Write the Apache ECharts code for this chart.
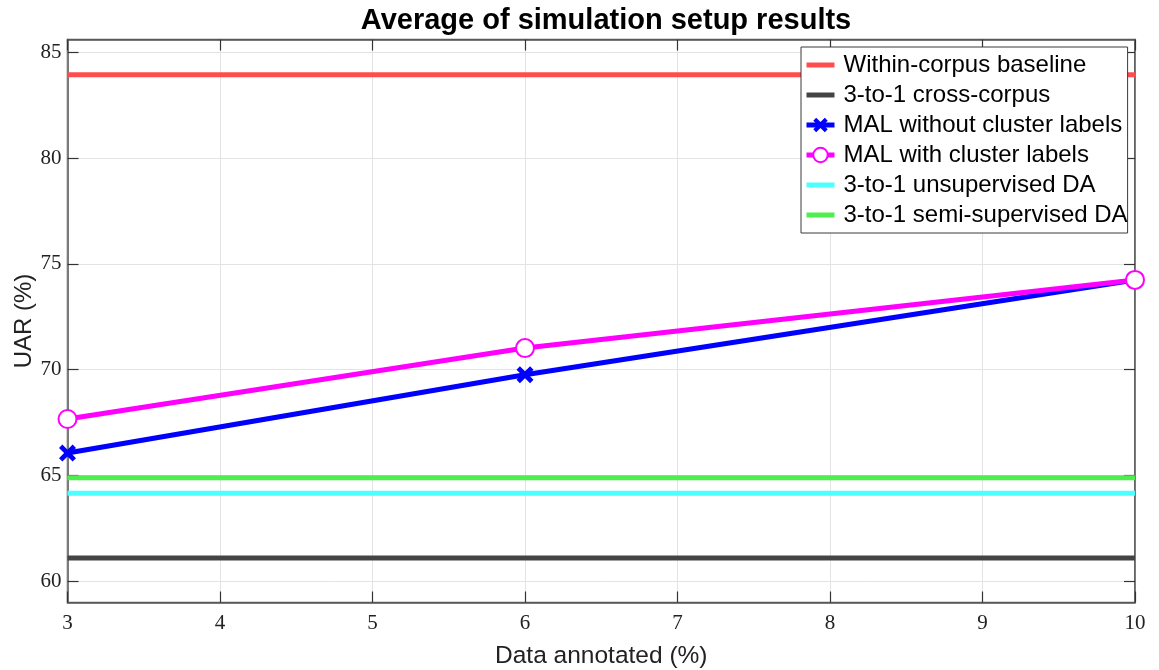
<!DOCTYPE html>
<html><head><meta charset="utf-8">
<script src="https://cdn.jsdelivr.net/npm/echarts@6/dist/echarts.min.js"></script>
<style>html,body{margin:0;padding:0;background:#fff}#c{width:1159px;height:670px}</style>
</head><body><div id="c"></div>
<script>
const xPoints = [3, 6, 10];
const xRange = [3, 10];
const yTicks = [60, 65, 70, 75, 80, 85];
const withinCorpus = 83.93;
const crossCorpus = 61.1;
const malWithout = [66.06, 69.76, 74.24];
const malWith = [67.67, 71.02, 74.24];
const unsupDA = 64.16;
const semiDA = 64.89;
const seriesNames = ['Within-corpus baseline', '3-to-1 cross-corpus', 'MAL without cluster labels', 'MAL with cluster labels', '3-to-1 unsupervised DA', '3-to-1 semi-supervised DA'];

const flat = v => xRange.map(x => [x, v]);
const pts = arr => xPoints.map((x, i) => [x, arr[i]]);
const xSym = 'path://M2,0 L5,3 L8,0 L10,2 L7,5 L10,8 L8,10 L5,7 L2,10 L0,8 L3,5 L0,2 Z';
const serif = 'Liberation Serif';
const sans = 'Liberation Sans';
const axisCol = '#5a5a5a';
const flatNames = [seriesNames[0], seriesNames[1], seriesNames[4], seriesNames[5]];

function lineSeries(name, data, color, extra) {
  return Object.assign({
    name, type: 'line', data, xAxisIndex: 0, yAxisIndex: 0,
    showSymbol: false, symbol: 'none', animation: false,
    lineStyle: { color, width: 5 }, itemStyle: { color },
  }, extra || {});
}

const chart = echarts.init(document.getElementById('c'), null, { renderer: 'canvas' });
chart.setOption({
  animation: false,
  backgroundColor: '#fff',
  title: {
    text: 'Average of simulation setup results', left: 601, top: 1, textAlign: 'center',
    textStyle: { fontFamily: sans, fontWeight: 'bold', fontSize: 29, color: '#000' }
  },
  grid: { left: 67.5, right: 24, top: 39.5, bottom: 67.5, outerBoundsMode: 'none', containLabel: false, show: true, borderColor: axisCol, borderWidth: 1.5, backgroundColor: 'transparent' },
  legend: {
    orient: 'vertical', left: 801, top: 47,
    data: seriesNames.map(n => flatNames.includes(n) ? { name: n, itemStyle: { opacity: 0 } } : { name: n }),
    backgroundColor: '#fff', borderColor: '#3a3a3a', borderWidth: 1,
    padding: [6, 0, 6, 3], itemGap: 6, itemWidth: 28, itemHeight: 18,
    lineStyle: { width: 5 },
    textStyle: { fontFamily: sans, fontSize: 24, color: '#000', lineHeight: 24, padding: [0, 0, 0, 4] }
  },
  xAxis: [{
    type: 'value', min: 3, max: 10, interval: 1, position: 'bottom',
    name: 'Data annotated (%)', nameLocation: 'middle', nameGap: 41,
    nameTextStyle: { fontFamily: sans, fontSize: 24.5, color: '#222' },
    axisLine: { show: true, lineStyle: { color: axisCol, width: 1.5 } },
    axisTick: { show: true, inside: true, length: 11, lineStyle: { color: '#333', width: 1.2 } },
    axisLabel: { fontFamily: serif, fontSize: 21, color: '#222', margin: 10 },
    splitLine: { show: true, lineStyle: { color: '#e3e3e3', width: 1 } }
  }, {
    type: 'value', min: 3, max: 10, interval: 1, position: 'top',
    axisLine: { show: true, lineStyle: { color: axisCol, width: 1.5 } },
    axisTick: { show: true, inside: true, length: 11, lineStyle: { color: '#333', width: 1.2 } },
    axisLabel: { show: false }, splitLine: { show: false }
  }],
  yAxis: [{
    type: 'value', min: 59, max: 85.6, position: 'left',
    name: 'UAR (%)', nameLocation: 'middle', nameGap: 31, nameRotate: 90, nameMoveOverlap: false,
    nameTextStyle: { fontFamily: sans, fontSize: 24, color: '#222' },
    axisLine: { show: true, lineStyle: { color: axisCol, width: 1.5 } },
    axisTick: { show: true, inside: true, length: 11, customValues: yTicks, lineStyle: { color: '#333', width: 1.2 } },
    axisLabel: { fontFamily: serif, fontSize: 21, color: '#222', margin: 6, customValues: yTicks },
    splitLine: { show: true, lineStyle: { color: '#e3e3e3', width: 1 } }
  }, {
    type: 'value', min: 59, max: 85.6, position: 'right',
    axisLine: { show: true, lineStyle: { color: axisCol, width: 1.5 } },
    axisTick: { show: true, inside: true, length: 11, customValues: yTicks, lineStyle: { color: '#333', width: 1.2 } },
    axisLabel: { show: false }, splitLine: { show: false }
  }],
  series: [
    lineSeries(seriesNames[0], flat(withinCorpus), '#ff4d4d'),
    lineSeries(seriesNames[1], flat(crossCorpus), '#444444'),
    lineSeries(seriesNames[2], pts(malWithout), '#0000ff', {
      showSymbol: true, symbol: xSym, symbolSize: 17,
      itemStyle: { color: '#0000ff' }
    }),
    lineSeries(seriesNames[3], pts(malWith), '#ff00ff', {
      showSymbol: true, symbol: 'emptyCircle', symbolSize: 18,
      itemStyle: { color: '#ff00ff', borderColor: '#ff00ff', borderWidth: 4 }
    }),
    lineSeries(seriesNames[4], flat(unsupDA), '#4dffff'),
    lineSeries(seriesNames[5], flat(semiDA), '#4dee4d')
  ]
});
</script>
</body></html>
